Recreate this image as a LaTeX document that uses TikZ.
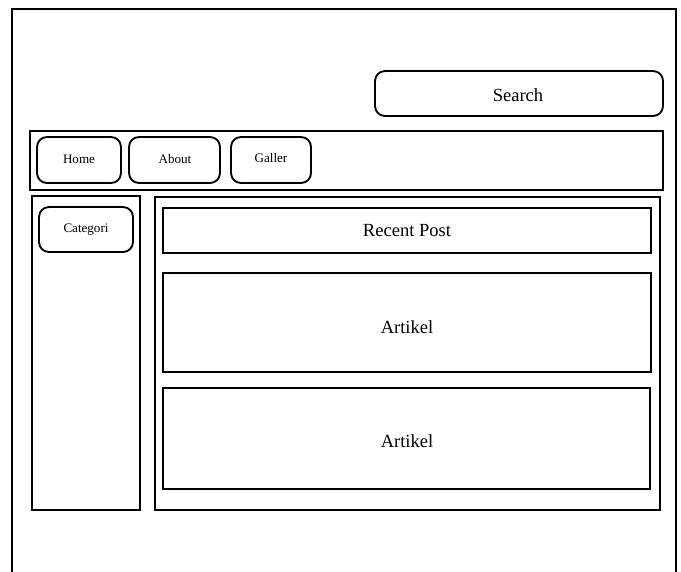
\documentclass[tikz,border=0pt]{standalone}
\usepackage{fontspec}
\setmainfont{Liberation Serif}
\usetikzlibrary{fit}
\begin{document}
\begin{tikzpicture}[x=0.75pt,y=-0.75pt,
  frame/.style={draw=black, line width=1.4pt, inner sep=0pt},
  rframe/.style={frame, rounded corners=7.5pt},
  bigtext/.style={inner sep=0pt, font=\fontsize{13.9pt}{16pt}\selectfont},
  smalltext/.style={inner sep=0pt, font=\fontsize{9.8pt}{12pt}\selectfont}]
  \useasboundingbox (0,0) rectangle (681,571);

  % page outline, open at the bottom edge
  \coordinate (pbl) at (12,575);
  \coordinate (ptl) at (12,9);
  \coordinate (ptr) at (676,9);
  \coordinate (pbr) at (676,575);
  \draw[line width=1.4pt] (pbl) -- (ptl) -- (ptr) -- (pbr);

  % header: search field
  \node[rframe, fit={(375,71) (663,116)}] (search) {};
  \node[bigtext] at (518,95.5) {Search};

  % navigation bar and its buttons
  \node[frame, fit={(30,131) (663,190)}] (nav) {};
  \node[rframe, fit={(37,137) (121,183)}] (home) {};
  \node[smalltext] at (79,159.5) {Home};
  \node[rframe, fit={(129,137) (220,183)}] (about) {};
  \node[smalltext] at (175,159.5) {About};
  \node[rframe, fit={(231,137) (311,183)}] (galler) {};
  \node[smalltext] at (271,158.5) {Galler};

  % sidebar
  \node[frame, fit={(32,196) (140,510)}] (side) {};
  \node[rframe, fit={(39,207) (133,252)}] (cat) {};
  \node[smalltext] at (86,229.5) {Categori};

  % main content
  \node[frame, fit={(155,197) (660,510)}] (main) {};
  \node[frame, fit={(163,208) (651,253)}] (recent) {};
  \node[bigtext] at (407,231) {Recent Post};
  \node[frame, fit={(163,273) (651,372)}] (art1) {};
  \node[bigtext] at (407,327) {Artikel};
  \node[frame, fit={(163,388) (650,489)}] (art2) {};
  \node[bigtext] at (407,441.5) {Artikel};
\end{tikzpicture}
\end{document}
